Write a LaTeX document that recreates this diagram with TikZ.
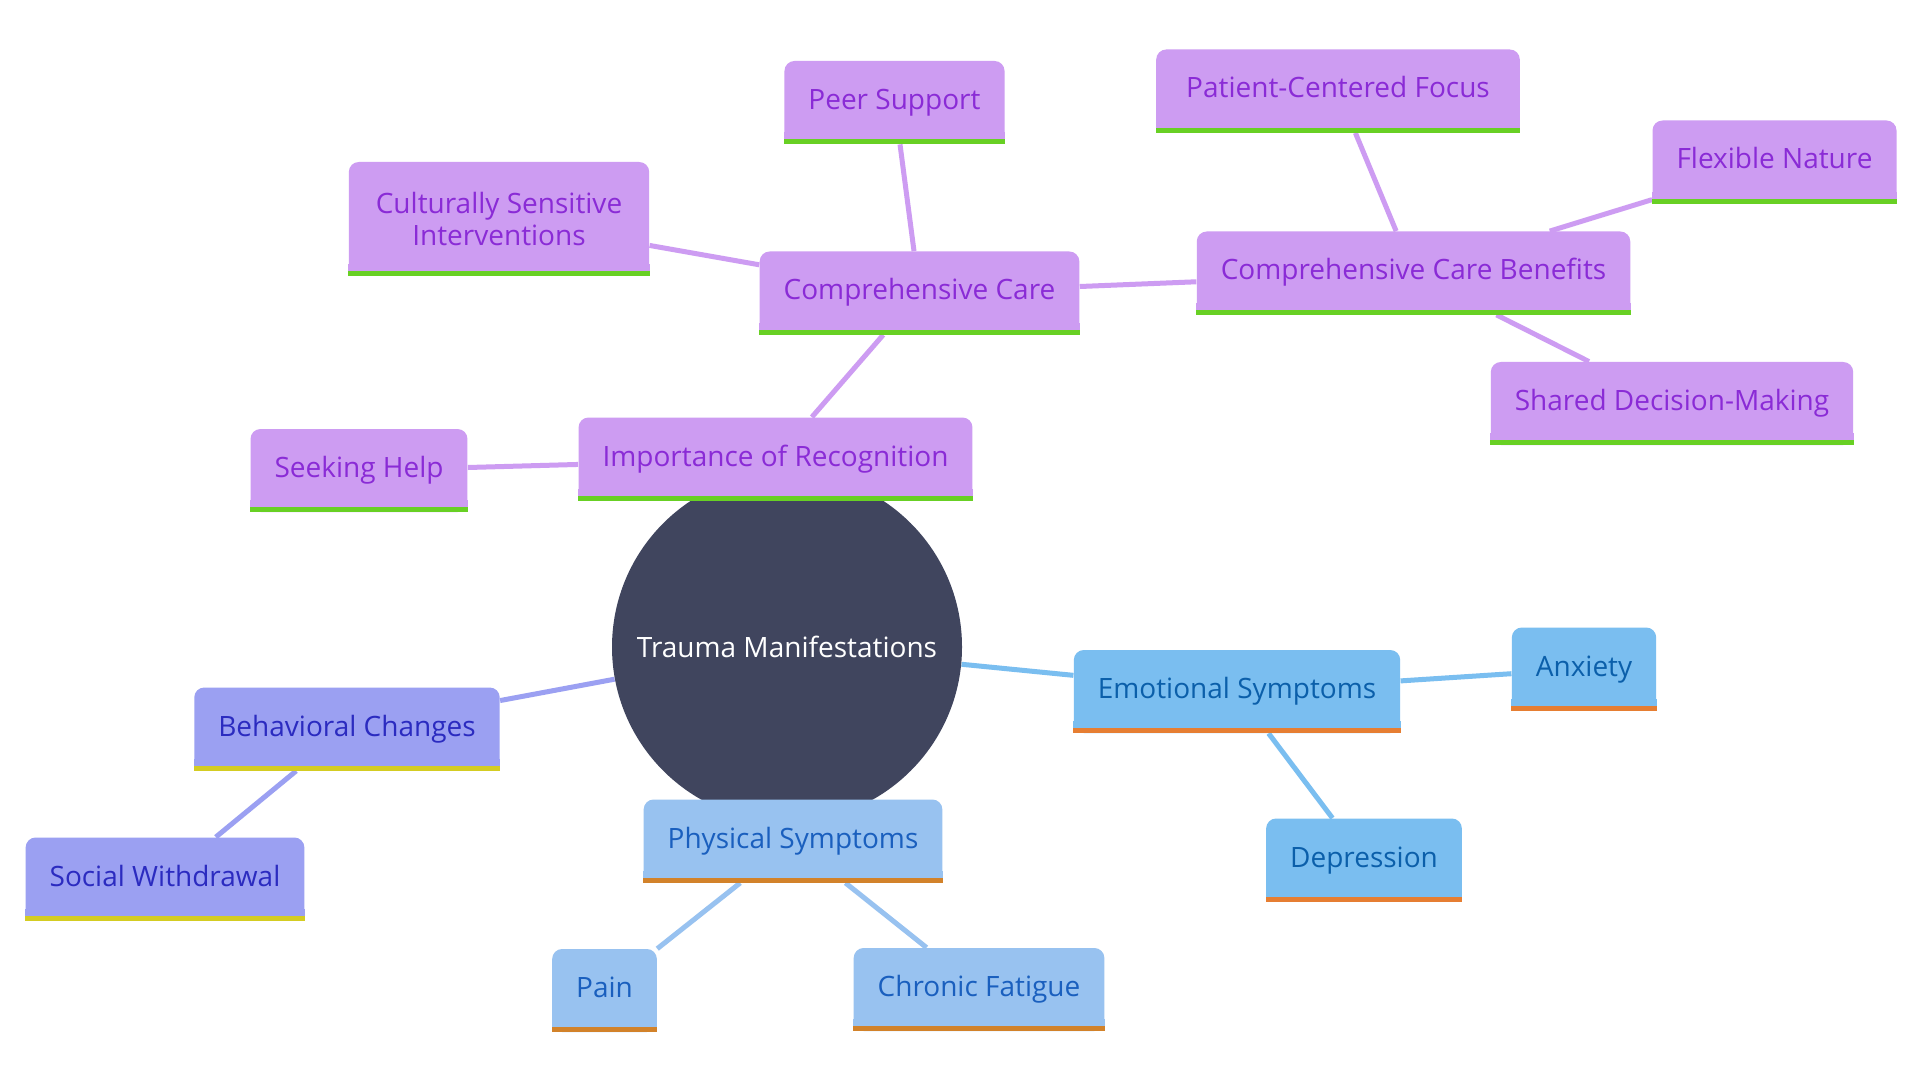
\documentclass[tikz,border=0pt]{standalone}
\usepackage{fontspec}
\setmainfont{Open Sans}
\usetikzlibrary{backgrounds}

\definecolor{carefill}{HTML}{CD9CF2}
\definecolor{caretext}{HTML}{8A2BD6}
\definecolor{carebar}{HTML}{68D024}
\definecolor{emofill}{HTML}{7ABEF0}
\definecolor{emotext}{HTML}{0B5FAA}
\definecolor{emobar}{HTML}{E67E32}
\definecolor{physfill}{HTML}{98C2F0}
\definecolor{phystext}{HTML}{1A5FBE}
\definecolor{physbar}{HTML}{D2822A}
\definecolor{behfill}{HTML}{9BA0F2}
\definecolor{behtext}{HTML}{2B2BC0}
\definecolor{behbar}{HTML}{D4CC22}
\definecolor{rootfill}{HTML}{40455E}

\tikzset{
  topic/.style={rectangle, rounded corners=5pt, minimum height=41.5pt, inner xsep=12pt, inner ysep=0pt},
  oneline/.style={text height=10.5pt, text depth=3.5pt},
  care/.style={topic, oneline, fill=carefill, text=caretext},
  caretwo/.style={topic, align=center, minimum height=57pt, inner xsep=13.5pt, fill=carefill, text=caretext},
  emo/.style={topic, oneline, fill=emofill, text=emotext},
  phys/.style={topic, oneline, fill=physfill, text=phystext},
  beh/.style={topic, oneline, fill=behfill, text=behtext},
  link/.style={line width=2.5pt},
}

\begin{document}
\begin{tikzpicture}[x=0.5pt, y=-0.5pt, font=\fontsize{14}{16}\selectfont]
\useasboundingbox (0,0) rectangle (1920,1080);
%centre
\node[circle, fill=rootfill, text=white, minimum size=175pt, inner sep=0pt] (root) at (787,647) {Trauma Manifestations};
%care branch
\node[care] (peer) at (894.5,102.5) {Peer Support};
\node[care, inner xsep=15pt] (patient) at (1338,91) {Patient-Centered Focus};
\node[care] (flexible) at (1774.5,162) {Flexible Nature};
\node[caretwo] (cultural) at (499,219) {Culturally Sensitive\\Interventions};
\node[care] (compcare) at (919.5,293) {Comprehensive Care};
\node[care] (benefits) at (1413.5,273) {Comprehensive Care Benefits};
\node[care] (shared) at (1672,403.5) {Shared Decision-Making};
\node[care] (seeking) at (359,470.5) {Seeking Help};
\node[care] (recog) at (775.5,459) {Importance of Recognition};
%emotional branch
\node[emo] (emotional) at (1237,691.5) {Emotional Symptoms};
\node[emo] (anxiety) at (1584,669) {Anxiety};
\node[emo] (depression) at (1364,860) {Depression};
%physical branch
\node[phys] (physical) at (793,841) {Physical Symptoms};
\node[phys] (pain) at (604.5,990.5) {Pain};
\node[phys] (fatigue) at (979,989.5) {Chronic Fatigue};
%behavioural branch
\node[beh] (behavioral) at (347,729) {Behavioral Changes};
\node[beh] (social) at (165,879) {Social Withdrawal};

%bars under the boxes
\foreach \n/\f/\b in {peer/carefill/carebar, patient/carefill/carebar, flexible/carefill/carebar,
    cultural/carefill/carebar, compcare/carefill/carebar, benefits/carefill/carebar,
    shared/carefill/carebar, seeking/carefill/carebar, recog/carefill/carebar,
    emotional/emofill/emobar, anxiety/emofill/emobar, depression/emofill/emobar,
    physical/physfill/physbar, pain/physfill/physbar, fatigue/physfill/physbar,
    behavioral/behfill/behbar, social/behfill/behbar}{
   \fill[\f] ([yshift=6pt]\n.south west) rectangle (\n.south east);
   \fill[\b] ([yshift=2.5pt]\n.south west) rectangle (\n.south east);
}

%connectors
\begin{scope}[on background layer]
\fill[white] (0,0) rectangle (1920,1080);
\foreach \a/\b/\c in {root/recog/carefill, recog/seeking/carefill, recog/compcare/carefill,
    compcare/cultural/carefill, compcare/peer/carefill, compcare/benefits/carefill,
    benefits/patient/carefill, benefits/flexible/carefill, benefits/shared/carefill,
    root/emotional/emofill, emotional/anxiety/emofill, emotional/depression/emofill,
    root/physical/physfill, physical/pain/physfill, physical/fatigue/physfill,
    root/behavioral/behfill, behavioral/social/behfill}{
   \draw[link, \c] (\a) -- (\b);
}
\end{scope}
\end{tikzpicture}
\end{document}
